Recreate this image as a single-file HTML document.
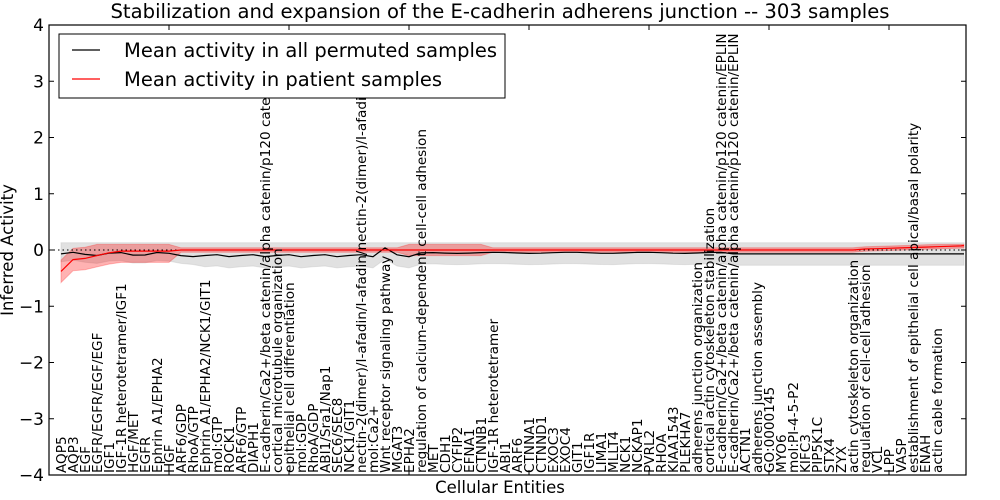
<!DOCTYPE html>
<html><head><meta charset="utf-8"><style>
html,body{margin:0;padding:0;background:#fff;}
svg{display:block;font-family:"DejaVu Sans","Liberation Sans",sans-serif;}
</style></head><body>
<svg id="s" width="1000" height="500" xmlns="http://www.w3.org/2000/svg">
<rect width="1000" height="500" fill="#fff"/>
<g id="plot"></g>
</svg>
<script>
var NS="http://www.w3.org/2000/svg",g=document.getElementById('plot');
function el(t,a,txt){var e=document.createElementNS(NS,t);for(var k in a)e.setAttribute(k,a[k]);if(txt!=null)e.textContent=txt;g.appendChild(e);return e;}
var L=49,R=966,T=25,B=475;
function Y(v){return 250-v*56.25;}
function X(i){return 49+12*i;}
var labels=["AQP5","AQP3","EGF","EGFR/EGFR/EGF/EGF","IGF1","IGF-1R heterotetramer/IGF1","HGF/MET","EGFR","Ephrin A1/EPHA2","HGF","ARF6/GDP","RhoA/GTP","Ephrin A1/EPHA2/NCK1/GIT1","mol:GTP","ROCK1","ARF6/GTP","DIAPH1","E-cadherin/Ca2+/beta catenin/alpha catenin/p120 catenin","cortical microtubule organization","epithelial cell differentiation","mol:GDP","RhoA/GDP","ABI1/Sra1/Nap1","SEC6/SEC8","NCK1/GIT1","nectin-2(dimer)/I-afadin/I-afadin/nectin-2(dimer)/I-afadin","mol:Ca2+","Wnt receptor signaling pathway","MGAT3","EPHA2","regulation of calcium-dependent cell-cell adhesion","MET","CDH1","CYFIP2","EFNA1","CTNNB1","IGF-1R heterotetramer","ABI1","ARF6","CTNNA1","CTNND1","EXOC3","EXOC4","GIT1","IGF1R","LIMA1","MLLT4","NCK1","NCKAP1","PVRL2","RHOA","KIAA1543","PLEKHA7","adherens junction organization","cortical actin cytoskeleton stabilization","E-cadherin/Ca2+/beta catenin/alpha catenin/p120 catenin/EPLIN","E-cadherin/Ca2+/beta catenin/alpha catenin/p120 catenin/EPLIN","ACTN1","adherens junction assembly","GO:0000145","MYO6","mol:PI-4-5-P2","KIFC3","PIP5K1C","STX4","ZYX","actin cytoskeleton organization","regulation of cell-cell adhesion","VCL","LPP","VASP","establishment of epithelial cell apical/basal polarity","ENAH","actin cable formation"];
var n=77,bl=[],rd=[],gu=[],gl=[],ru=[],rl=[];
for(var i=0;i<n;i++){
 var x=49+12*(i+1); if(x>964)x=964;
 var b=-0.07+0.03*Math.sin(i*1.7); if(i>10&&i<30)b=-0.1+0.02*Math.sin(i*2.1); if(i==27)b=0.04; if(i>30)b=-0.05-0.01*Math.sin(i); if(i>55)b=-0.07;
 var r=0; if(i==0)r=-0.38; else if(i==1)r=-0.17; else if(i==2)r=-0.15; else if(i==3)r=-0.1; else if(i==4)r=-0.05; else if(i<10)r=-0.02; else if(i>66)r=0.01+0.007*(i-66);
 bl.push([x,b]);rd.push([x,r]);
 var w=i<12?0.14:0.2; gu.push([x,0.13]);gl.push([x,b-w]);
 var rw=i<10?0.2:(i>28&&i<36?0.1:0.04); ru.push([x,Math.min(0.1,r+rw)]);rl.push([x,r-rw]);
}
function pts(a){return a.map(function(p){return p[0]+","+Y(p[1]).toFixed(1)}).join(" ");}
function band(u,l,fill,op){el('polygon',{points:pts(u)+" "+pts(l.slice().reverse()),fill:fill,'fill-opacity':op,stroke:fill,'stroke-opacity':op*0.8,'stroke-width':1});}
band(gu,gl,'#bdbdbd',0.45);
band(ru,rl,'#ff0000',0.3);
el('line',{x1:L,y1:250,x2:R,y2:250,stroke:'#000','stroke-dasharray':'1.5,3','stroke-width':1});
el('polyline',{points:pts(bl),fill:'none',stroke:'#000','stroke-width':1.2});
el('polyline',{points:pts(rd),fill:'none',stroke:'#ff0000','stroke-width':1.2});
labels.forEach(function(t,i){var x=X(i+1)+5;el('text',{transform:'translate('+x+',473) rotate(-90)','font-size':'13.6'},t);});
el('rect',{x:59,y:34,width:446,height:64,fill:'#fff',stroke:'#000','stroke-width':1});
el('line',{x1:72,y1:50,x2:100,y2:50,stroke:'#000','stroke-width':1.2});
el('line',{x1:72,y1:79,x2:100,y2:79,stroke:'#ff0000','stroke-width':1.2});
el('text',{x:124,y:57,'font-size':'19.5'},'Mean activity in all permuted samples');
el('text',{x:124,y:86,'font-size':'19.5'},'Mean activity in patient samples');
el('rect',{x:L,y:T,width:R-L,height:B-T,fill:'none',stroke:'#000','stroke-width':1.2});
for(var v=-4;v<=4;v++){var y=Y(v);
 el('line',{x1:L,y1:y,x2:L+5,y2:y,stroke:'#000'});el('line',{x1:R-5,y1:y,x2:R,y2:y,stroke:'#000'});
 el('text',{x:44,y:y+6,'font-size':'17','text-anchor':'end'},(v<0?'\u2212':'')+Math.abs(v));}
for(var k=10;k<=70;k+=10){var x=X(k);el('line',{x1:x,y1:T,x2:x,y2:T+5,stroke:'#000'});el('line',{x1:x,y1:B-5,x2:x,y2:B,stroke:'#000'});}
el('text',{x:500,y:18,'font-size':'19.6','text-anchor':'middle'},'Stabilization and expansion of the E-cadherin adherens junction -- 303 samples');
el('text',{x:500,y:493,'font-size':'16.5','text-anchor':'middle'},'Cellular Entities');
el('text',{transform:'translate(13,250) rotate(-90)','font-size':'16.5','text-anchor':'middle'},'Inferred Activity');
</script>
</body></html>
